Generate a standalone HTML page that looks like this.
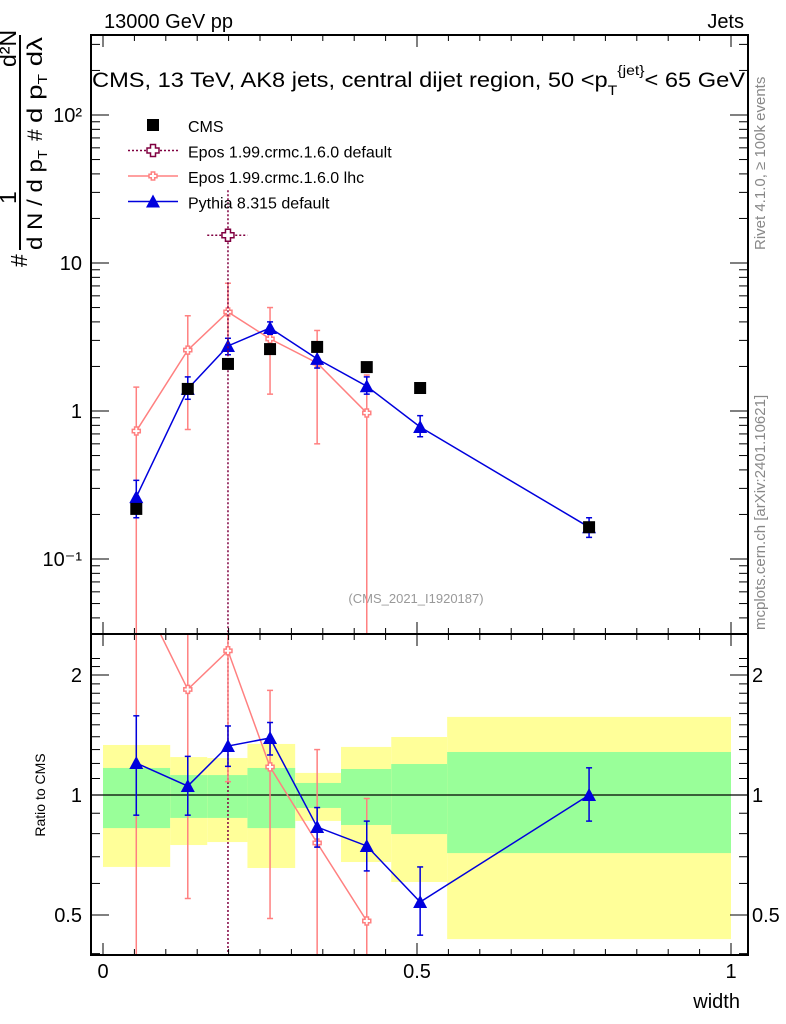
<!DOCTYPE html>
<html><head><meta charset="utf-8"><style>
html,body{margin:0;padding:0;background:#fff;overflow:hidden;width:786px;height:1024px;}
svg{display:block;font-family:"Liberation Sans",sans-serif;}
</style></head><body>
<svg id="c" width="786" height="1024" viewBox="0 0 786 1024" xmlns="http://www.w3.org/2000/svg">
<text x="104" y="28" font-size="20">13000 GeV pp</text>
<text x="744" y="28" font-size="20" text-anchor="end">Jets</text>
<text x="92" y="87" font-size="21" textLength="653" lengthAdjust="spacingAndGlyphs">CMS, 13 TeV, AK8 jets, central dijet region, 50 &lt;p<tspan font-size="14" dy="8">T</tspan><tspan font-size="14" dy="-20">{jet}</tspan><tspan dy="12">&lt; 65 GeV</tspan></text>
<g transform="translate(20,270) rotate(-90)">
<text x="3" y="7" font-size="23">#</text>
<line x1="20" y1="0" x2="235" y2="0" stroke="#000" stroke-width="2"/>
<text x="66" y="-4" font-size="23">1</text>
<text x="203" y="-4" font-size="23">d²N</text>
<text x="20" y="22" font-size="21" textLength="100" lengthAdjust="spacingAndGlyphs">d N / d p<tspan font-size="13" dy="5">T</tspan></text>
<text x="129" y="22" font-size="21">#</text>
<text x="147" y="22" font-size="21" textLength="86" lengthAdjust="spacingAndGlyphs">d p<tspan font-size="13" dy="5">T</tspan><tspan dy="-5"> dλ</tspan></text>
</g>
<text transform="translate(765,250) rotate(-90)" font-size="15" fill="#888">Rivet 4.1.0, ≥ 100k events</text>
<text transform="translate(765,630) rotate(-90)" font-size="15" fill="#888">mcplots.cern.ch [arXiv:2401.10621]</text>
<text x="416" y="603" font-size="13" fill="#999" text-anchor="middle">(CMS_2021_I1920187)</text>
<text x="45" y="795" font-size="14" transform="rotate(-90 45 795)" text-anchor="middle">Ratio to CMS</text>
<text x="740" y="1008" font-size="20" text-anchor="end">width</text>
<g id="g"></g>
</svg>
<script>
const binEdges=[0,0.107,0.166,0.23,0.306,0.379,0.459,0.548,1];
const bandYellowHi=[1.335,1.245,1.238,1.343,1.136,1.32,1.398,1.57];
const bandYellowLo=[0.66,0.749,0.762,0.656,0.861,0.679,0.605,0.435];
const bandGreenHi=[1.169,1.122,1.122,1.169,1.072,1.162,1.196,1.282];
const bandGreenLo=[0.826,0.876,0.876,0.826,0.928,0.841,0.798,0.715];
const cmsX=[0.053,0.135,0.199,0.266,0.341,0.42,0.505,0.774];
const cmsY=[0.218,1.41,2.08,2.62,2.71,1.98,1.43,0.164];
const pyX=[0.053,0.135,0.199,0.266,0.341,0.42,0.505,0.774];
const pyY=[0.262,1.41,2.75,3.64,2.25,1.47,0.78,0.164];
const pyLo=[0.19,1.2,2.4,3.3,1.95,1.3,0.67,0.14];
const pyHi=[0.34,1.7,3.1,4.0,2.6,1.7,0.93,0.19];
const pyR=[1.203,1.053,1.327,1.39,0.831,0.745,0.539,1.0];
const pyRLo=[0.89,0.89,1.18,1.26,0.74,0.645,0.445,0.86];
const pyRHi=[1.58,1.25,1.49,1.52,0.93,0.86,0.66,1.17];
const lhcX=[0.053,0.135,0.199,0.266,0.341,0.42];
const lhcY=[0.732,2.58,4.67,3.07,2.11,0.97];
const lhcLo=[0.01,0.75,2.75,1.3,0.6,0.01];
const lhcHi=[1.45,4.4,7.3,5.0,3.5,1.75];
const lhcR=[3.36,1.84,2.3,1.176,0.758,0.483];
const lhcRLo=[0.35,0.55,1.08,0.49,0.35,0.35];
const lhcRHi=[9,9,9,1.83,1.3,0.98];
const defX=[0.199];
const defY=[15.4];
const defLo=[0.001];
const defHi=[31];
const defXLo=[0.166];
const defXHi=[0.23];
const yTicksMain=[0.1,1,10,100];
const yTickLabels=["10⁻¹","1","10","10²"];
const rTicks=[0.5,1,2];
const rTickLabels=["0.5","1","2"];
const xTicks=[0,0.5,1];
const xTickLabels=["0","0.5","1"];

const L=91,R=748,T=35,M=634,B=955;
const X=v=>103+628*v;
const Y=v=>411-148*Math.log10(v);
const YR=v=>795-120*Math.log2(v);
const NS="http://www.w3.org/2000/svg";
const g=document.getElementById('g');
function mk(t,a,p){const e=document.createElementNS(NS,t);for(const k in a)e.setAttribute(k,a[k]);(p||g).appendChild(e);return e;}
const cm=mk('clipPath',{id:'cm'});mk('rect',{x:L,y:T,width:R-L,height:M-T},cm);
const cr=mk('clipPath',{id:'cr'});mk('rect',{x:L,y:M,width:R-L,height:B-M},cr);
const gm=mk('g',{'clip-path':'url(#cm)'});


const gr=mk('g',{'clip-path':'url(#cr)'});


for(let i=0;i<bandYellowHi.length;i++){
 let r=mk('rect',{x:X(binEdges[i]),y:YR(bandYellowHi[i]),width:X(binEdges[i+1])-X(binEdges[i]),height:YR(bandYellowLo[i])-YR(bandYellowHi[i]),fill:'#ffff99'},gr);
 
 
 r=mk('rect',{x:X(binEdges[i]),y:YR(bandGreenHi[i]),width:X(binEdges[i+1])-X(binEdges[i]),height:YR(bandGreenLo[i])-YR(bandGreenHi[i]),fill:'#99ff99'},gr);
 
 
}
mk('line',{x1:L,x2:R,y1:YR(1),y2:YR(1),stroke:'#000','stroke-width':1.3},gr);
function series(par,xs,ys,lo,hi,yf,col,marker,name,w){
 const pts=xs.map((x,i)=>X(x)+','+yf(ys[i])).join(' ');
 let pl=mk('polyline',{points:pts,fill:'none',stroke:col,'stroke-width':w||1.5},par);
 
 
 xs.forEach((x,i)=>{
  const cx=X(x),cy=yf(ys[i]);
  let e=mk('line',{x1:cx,x2:cx,y1:yf(hi[i]),y2:yf(lo[i]),stroke:col,'stroke-width':1.5},par);
  
  
  mk('line',{x1:cx-3,x2:cx+3,y1:yf(hi[i]),y2:yf(hi[i]),stroke:col,'stroke-width':1.5},par);
  mk('line',{x1:cx-3,x2:cx+3,y1:yf(lo[i]),y2:yf(lo[i]),stroke:col,'stroke-width':1.5},par);
  drawMarker(par,marker,cx,cy,col,name);
 });
}
function drawMarker(par,m,cx,cy,col,name){
 let e;
 if(m==='tri')e=mk('polygon',{points:`${cx-7},${cy+6} ${cx+7},${cy+6} ${cx},${cy-7}`,fill:col},par);
 else if(m==='sq')e=mk('rect',{x:cx-6,y:cy-6,width:12,height:12,fill:col},par);
 else{const s=m==='bigcross'?6:4,t=m==='bigcross'?2.5:1.7;
  e=mk('path',{d:`M${cx-t},${cy-s}h${2*t}v${s-t}h${s-t}v${2*t}h${t-s}v${s-t}h${-2*t}v${t-s}h${t-s}v${-2*t}h${s-t}z`,fill:'#fff',stroke:col,'stroke-width':1.5},par);}
 
 
}
series(gm,lhcX,lhcY,lhcLo,lhcHi,Y,'#ff8080','cross','epos-lhc');
series(gm,pyX,pyY,pyLo,pyHi,Y,'#0000dd','tri','pythia');
defX.forEach((x,i)=>{const cx=X(x),cy=Y(defY[i]);
 let e=mk('line',{x1:cx,x2:cx,y1:Y(defHi[i]),y2:Y(defLo[i]),stroke:'#800040','stroke-width':1.5,'stroke-dasharray':'2,2'},gm);
 
 
 mk('line',{x1:X(defXLo[i]),x2:X(defXHi[i]),y1:cy,y2:cy,stroke:'#800040','stroke-width':1.5,'stroke-dasharray':'2,2'},gm);
 drawMarker(gm,'bigcross',cx,cy,'#800040','epos-default');});
mk('line',{x1:X(defX[0]),x2:X(defX[0]),y1:M,y2:B,stroke:'#800040','stroke-width':1.5,'stroke-dasharray':'2,2'},gr);
cmsX.forEach((x,i)=>drawMarker(gm,'sq',X(x),Y(cmsY[i]),'#000','cms'));
series(gr,lhcX,lhcR,lhcRLo,lhcRHi,YR,'#ff8080','cross','epos-lhc-ratio');
series(gr,pyX,pyR,pyRLo,pyRHi,YR,'#0000dd','tri','pythia-ratio');
mk('rect',{x:L,y:T,width:R-L,height:M-T,fill:'none',stroke:'#000','stroke-width':2});
mk('rect',{x:L,y:M,width:R-L,height:B-M,fill:'none',stroke:'#000','stroke-width':2});
for(let k=0;k<=20;k++){const v=k*0.05,x=X(v),len=(k%10==0)?12:6;
 [T,M].forEach(y0=>mk('line',{x1:x,x2:x,y1:y0,y2:y0+len,stroke:'#000'}));
 [M,B].forEach(y0=>mk('line',{x1:x,x2:x,y1:y0,y2:y0-len,stroke:'#000'}));}
xTicks.forEach((v,i)=>{const t=mk('text',{x:X(v),y:978,'font-size':20,'text-anchor':'middle'});t.textContent=xTickLabels[i];
 
 });
for(let d=-2;d<=2;d++)for(let m=1;m<10;m++){const v=m*Math.pow(10,d),y=Y(v);if(y<T||y>M)continue;const len=m==1?18:9;
 mk('line',{x1:L,x2:L+len,y1:y,y2:y,stroke:'#000'});mk('line',{x1:R,x2:R-len,y1:y,y2:y,stroke:'#000'});}
yTicksMain.forEach((v,i)=>{const t=mk('text',{x:82,y:Y(v)+7,'font-size':20,'text-anchor':'end'});t.textContent=yTickLabels[i];
 
 });
for(let v=0.4;v<=2.3;v+=0.1){const y=YR(v);if(y<M||y>B)continue;const maj=[0.5,1,2].some(q=>Math.abs(q-v)<1e-6);const len=maj?18:9;
 mk('line',{x1:L,x2:L+len,y1:y,y2:y,stroke:'#000'});mk('line',{x1:R,x2:R-len,y1:y,y2:y,stroke:'#000'});}
rTicks.forEach((v,i)=>{let t=mk('text',{x:82,y:YR(v)+7,'font-size':20,'text-anchor':'end'});t.textContent=rTickLabels[i];
 
 
 t=mk('text',{x:752,y:YR(v)+7,'font-size':20});t.textContent=rTickLabels[i];
 
 });
const leg=[['CMS','sq','#000',false,''],['Epos 1.99.crmc.1.6.0 default','bigcross','#800040',true,'2,2'],['Epos 1.99.crmc.1.6.0 lhc','cross','#ff8080',true,''],['Pythia 8.315 default','tri','#0000dd',true,'']];
leg.forEach((l,i)=>{const y=125+i*25.5;
 const lg=mk('g',{});
 
 
 if(l[3])mk('line',{x1:128,x2:178,y1:y,y2:y,stroke:l[2],'stroke-width':1.5,'stroke-dasharray':l[4]||'none'},lg);
 drawMarker(lg,l[1],153,y,l[2],'legend');
 const t=mk('text',{x:188,y:y+7,'font-size':16},lg);t.textContent=l[0];});
</script>
</body></html>
